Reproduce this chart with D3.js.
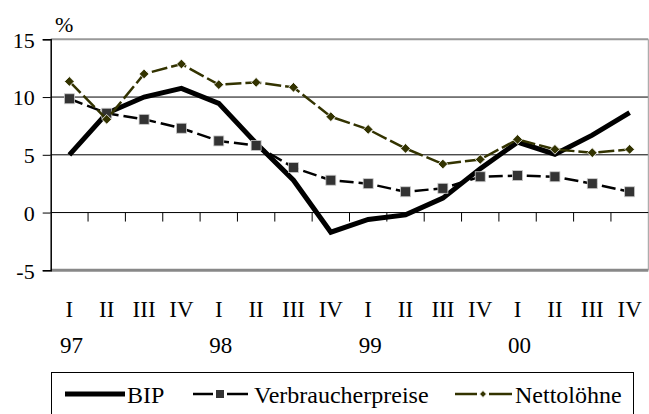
<!DOCTYPE html>
<html><head><meta charset="utf-8">
<script src="https://cdn.jsdelivr.net/npm/d3@7"></script>
<style>body{margin:0;background:#fff}svg{display:block}</style>
</head><body><svg id="c" width="649" height="414"></svg>
<script>
const quarters = ["I","II","III","IV","I","II","III","IV","I","II","III","IV","I","II","III","IV"];
const years = ["97","","","","98","","","","99","","","","00","","",""];
const bip = [5.0,8.6,10.0,10.75,9.45,6.0,2.8,-1.7,-0.6,-0.2,1.25,3.8,6.1,5.05,6.7,8.65];
const vpi = [9.85,8.6,8.07,7.3,6.2,5.8,3.9,2.8,2.5,1.8,2.1,3.1,3.2,3.1,2.5,1.8];
const netto = [11.35,8.07,12.0,12.86,11.07,11.27,10.84,8.3,7.2,5.55,4.2,4.6,6.33,5.47,5.18,5.47];
const yTicks = [-5,0,5,10,15];
const seriesNames = ["BIP","Verbraucherpreise","Nettolöhne"];

const FONT = "Liberation Serif";
const svg = d3.select("#c");
const L = 50.7, R = 648.3, T = 39.3, B = 270.3;
const idx = d3.range(quarters.length);
const x = d3.scaleBand().domain(idx).range([L, R]);
const cx = i => x(i) + x.bandwidth()/2;
const y = d3.scaleLinear().domain([-5,15]).range([B, T]);

function txt(sel, size){ return sel.attr("font-family", FONT).attr("font-size", size).attr("fill","#000"); }

// gridlines
[5,10].forEach(v => svg.append("line").attr("x1",L).attr("x2",R).attr("y1",y(v)).attr("y2",y(v)).attr("stroke","#000").attr("stroke-width",1));
svg.append("line").attr("x1",L).attr("x2",R).attr("y1",y(15)).attr("y2",y(15)).attr("stroke","#999").attr("stroke-width",2);
svg.append("line").attr("x1",L).attr("x2",R).attr("y1",y(-5)).attr("y2",y(-5)).attr("stroke","#888").attr("stroke-width",3);
svg.append("line").attr("x1",R).attr("x2",R).attr("y1",T).attr("y2",B).attr("stroke","#999").attr("stroke-width",1);

// y axis
const yAxis = d3.axisLeft(y).tickValues(yTicks).tickSize(8).tickPadding(8).tickFormat(d => String(d));
const ya = svg.append("g").attr("transform",`translate(${L},0)`).call(yAxis);
ya.attr("font-family", FONT).attr("font-size", 22);
ya.select(".domain").attr("stroke","#000").attr("stroke-width",1.5);
ya.selectAll(".tick line").attr("stroke","#000");
txt(ya.selectAll("text"), 22).attr("dy","0.35em");

// x axis at zero with ticks at category boundaries
svg.append("line").attr("x1",L).attr("x2",R).attr("y1",y(0)).attr("y2",y(0)).attr("stroke","#000").attr("stroke-width",1);
idx.slice(1).forEach(i => svg.append("line").attr("x1",x(i)).attr("x2",x(i)).attr("y1",y(0)).attr("y2",y(0)+9).attr("stroke","#000").attr("stroke-width",1));

// category labels
txt(svg.append("g").selectAll("text").data(quarters).join("text")
  .attr("x",(d,i)=>cx(i)).attr("y",317).attr("text-anchor","middle").text(d=>d), 23);
txt(svg.append("g").selectAll("text").data(years).join("text")
  .attr("x",(d,i)=>cx(i)+2).attr("y",353).attr("text-anchor","middle").text(d=>d), 23);

txt(svg.append("text").attr("x",55).attr("y",32).text("%"), 22);

// lines
const line = d3.line().x((d,i)=>cx(i)).y(d=>y(d));
svg.append("path").attr("d",line(bip)).attr("fill","none").attr("stroke","#000").attr("stroke-width",5).attr("stroke-linejoin","miter");
svg.append("path").attr("d",line(vpi)).attr("fill","none").attr("stroke","#000").attr("stroke-width",2.5).attr("stroke-dasharray","14,5");
svg.selectAll(".sq").data(vpi).join("rect").attr("class","sq")
  .attr("x",(d,i)=>cx(i)-5).attr("y",d=>y(d)-5).attr("width",10).attr("height",10)
  .attr("fill","#333").attr("stroke","#ccc").attr("stroke-width",0.8);
svg.append("path").attr("d",line(netto)).attr("fill","none").attr("stroke","#333300").attr("stroke-width",2.5).attr("stroke-dasharray","16,4");
const diamond = d3.symbol().type(d3.symbolDiamond2).size(60);
svg.selectAll(".dm").data(netto).join("path").attr("class","dm")
  .attr("d",diamond).attr("transform",(d,i)=>`translate(${cx(i)},${y(d)})`)
  .attr("fill","#333300").attr("stroke","#fff").attr("stroke-width",0.8);

// legend
const lg = svg.append("g");
lg.append("rect").attr("x",51.5).attr("y",372.5).attr("width",582).attr("height",60).attr("fill","#fff").attr("stroke","#000").attr("stroke-width",1);
const ly = 394;
lg.append("line").attr("x1",65).attr("x2",125).attr("y1",ly).attr("y2",ly).attr("stroke","#000").attr("stroke-width",5);
txt(lg.append("text").attr("x",127).attr("y",ly+9).text(seriesNames[0]), 24);
lg.append("line").attr("x1",193).attr("x2",213).attr("y1",ly).attr("y2",ly).attr("stroke","#000").attr("stroke-width",2.5);
lg.append("line").attr("x1",227).attr("x2",248).attr("y1",ly).attr("y2",ly).attr("stroke","#000").attr("stroke-width",2.5);
lg.append("rect").attr("x",216).attr("y",ly-4).attr("width",8).attr("height",8).attr("fill","#333");
txt(lg.append("text").attr("x",254).attr("y",ly+9).text(seriesNames[1]), 24);
lg.append("line").attr("x1",455).attr("x2",477).attr("y1",ly).attr("y2",ly).attr("stroke","#333300").attr("stroke-width",2.5);
lg.append("line").attr("x1",489).attr("x2",512).attr("y1",ly).attr("y2",ly).attr("stroke","#333300").attr("stroke-width",2.5);
lg.append("path").attr("d",d3.symbol().type(d3.symbolDiamond2).size(30)).attr("transform",`translate(483,${ly})`).attr("fill","#333300").attr("stroke","#fff").attr("stroke-width",0.8);
txt(lg.append("text").attr("x",515).attr("y",ly+9).text(seriesNames[2]), 24);
</script></body></html>
